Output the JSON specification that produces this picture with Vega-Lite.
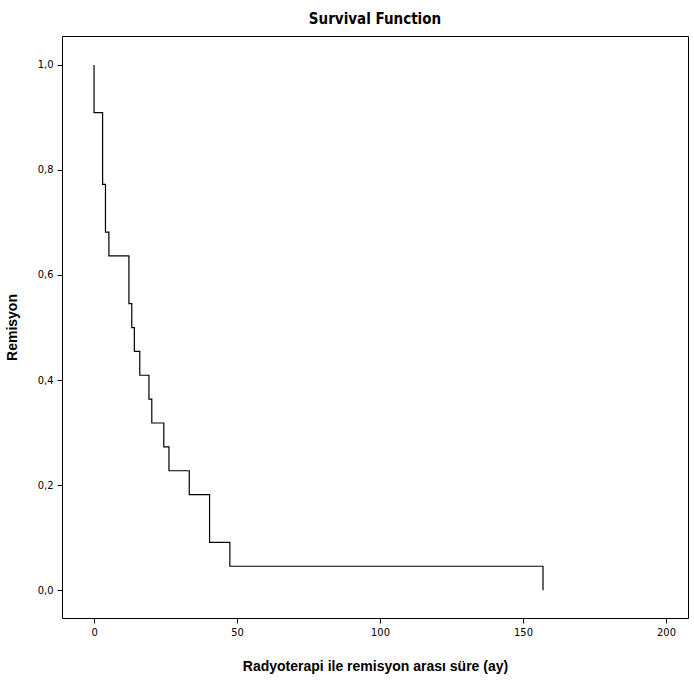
{
  "$schema": "https://vega.github.io/schema/vega-lite/v6.json",
  "width": 626,
  "height": 582,
  "autosize": {"type": "none"},
  "padding": {"left": 62, "top": 36, "right": 6, "bottom": 72},
  "background": "white",
  "title": {
    "text": "Survival Function",
    "font": "DejaVu Sans Condensed",
    "fontSize": 15,
    "fontWeight": "bold",
    "color": "#000000",
    "anchor": "middle",
    "offset": 9
  },
  "config": {
    "view": {"stroke": "#000000", "strokeWidth": 1},
    "axis": {
      "grid": false,
      "domain": false,
      "tickColor": "#000000",
      "tickSize": 5,
      "labelColor": "#000000",
      "labelFont": "DejaVu Sans Condensed",
      "labelFontSize": 11,
      "titleColor": "#000000",
      "titleFont": "Liberation Sans",
      "titleFontSize": 14,
      "titleFontWeight": "bold"
    }
  },
  "data": {
    "values": [
      {"i": 0, "t": 0, "s": 1.0},
      {"i": 1, "t": 0, "s": 0.9091},
      {"i": 2, "t": 3, "s": 0.7727},
      {"i": 3, "t": 4, "s": 0.6818},
      {"i": 4, "t": 5.2, "s": 0.6364},
      {"i": 5, "t": 12.2, "s": 0.5455},
      {"i": 6, "t": 13.2, "s": 0.5},
      {"i": 7, "t": 14.1, "s": 0.4545},
      {"i": 8, "t": 16, "s": 0.4091},
      {"i": 9, "t": 19.2, "s": 0.3636},
      {"i": 10, "t": 20.2, "s": 0.3182},
      {"i": 11, "t": 24.4, "s": 0.2727},
      {"i": 12, "t": 26.2, "s": 0.2273},
      {"i": 13, "t": 33.3, "s": 0.1818},
      {"i": 14, "t": 40.4, "s": 0.0909},
      {"i": 15, "t": 47.5, "s": 0.0455},
      {"i": 16, "t": 157, "s": 0.0}
    ]
  },
  "mark": {"type": "line", "interpolate": "step-after", "color": "#000000", "strokeWidth": 1.2, "clip": true},
  "encoding": {
    "x": {
      "field": "t",
      "type": "quantitative",
      "scale": {"domain": [-11.2, 207.7], "nice": false, "zero": false},
      "axis": {"values": [0, 50, 100, 150, 200], "title": "Radyoterapi ile remisyon arası süre (ay)", "titlePadding": 22, "labelPadding": 3}
    },
    "y": {
      "field": "s",
      "type": "quantitative",
      "scale": {"domain": [-0.053, 1.055], "nice": false, "zero": false},
      "axis": {"values": [0, 0.2, 0.4, 0.6, 0.8, 1.0], "labelExpr": "replace(format(datum.value, '.1f'), '.', ',')", "title": "Remisyon", "titlePadding": 18, "labelPadding": 4}
    },
    "order": {"field": "i", "type": "quantitative"}
  }
}
